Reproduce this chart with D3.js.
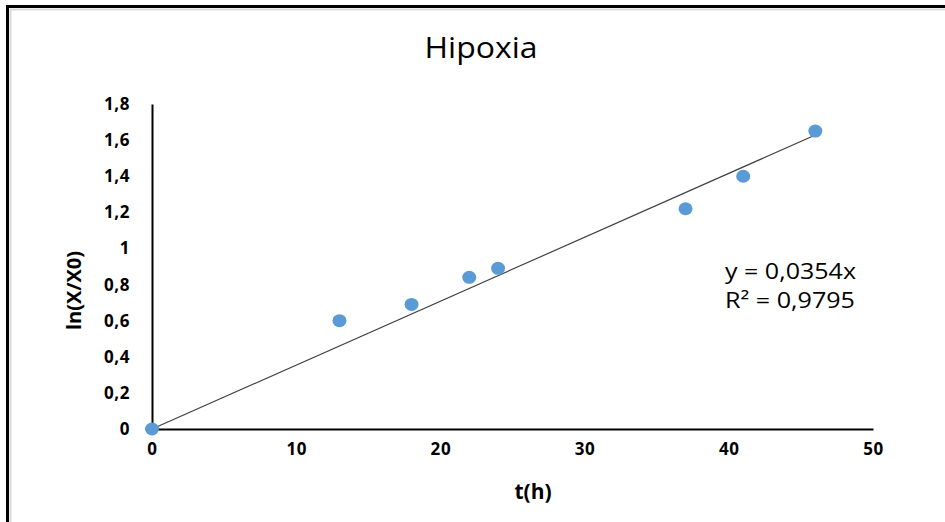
<!DOCTYPE html>
<html>
<head>
<meta charset="utf-8">
<script src="https://cdn.jsdelivr.net/npm/d3@7"></script>
<style>
  html, body { margin: 0; padding: 0; background: #fff; }
  svg { display: block; }
  text { font-family: "Open Sans", "DejaVu Sans", sans-serif; fill: #000; }
</style>
</head>
<body>
<svg id="chart" width="945" height="522"></svg>
<script>
// Measured hours and ln(X/X0) under hypoxia
const hours = [0, 13, 18, 22, 24, 37, 41, 46];
const lnRatio = [0, 0.60, 0.69, 0.84, 0.89, 1.22, 1.40, 1.65];

// Linear fit through the origin, as reported on the chart
const slope = 0.0354;
const rSquared = "0,9795";

const xTicks = [0, 10, 20, 30, 40, 50];
const yTicks = [0, 0.2, 0.4, 0.6, 0.8, 1, 1.2, 1.4, 1.6, 1.8];

const svg = d3.select("#chart");
const W = 945, H = 522;

const x = d3.scaleLinear().domain([0, 50]).range([152, 873]);
const y = d3.scaleLinear().domain([0, 1.8]).range([429, 104]);

const comma = d => String(+d.toFixed(1)).replace(".", ",");

// Frame: heavy dark edge along the top and left, with a soft grey inner line
svg.append("rect").attr("width", W).attr("height", H).attr("fill", "#fff");
svg.append("path")
  .attr("d", `M10.5,${H} V9.5 H${W}`)
  .attr("fill", "none").attr("stroke", "#d9d9d9").attr("stroke-width", 2);
svg.append("path")
  .attr("d", `M7.5,${H} V6.5 H${W}`)
  .attr("fill", "none").attr("stroke", "#000").attr("stroke-width", 3);

// Title
svg.append("text")
  .attr("x", 481).attr("y", 58)
  .attr("text-anchor", "middle")
  .attr("font-size", 30)
  .attr("textLength", 113).attr("lengthAdjust", "spacingAndGlyphs")
  .text("Hipoxia");

// Y axis
const yAxis = d3.axisLeft(y).tickValues(yTicks).tickSize(0).tickPadding(22)
  .tickFormat(comma);
const gy = svg.append("g").attr("transform", `translate(${x(0)},0)`).call(yAxis);
gy.select(".domain").attr("stroke", "#000").attr("stroke-width", 2);
gy.selectAll("text")
  .attr("font-family", "'Open Sans', sans-serif")
  .attr("font-size", 17).attr("font-weight", "bold").attr("fill", "#000")
  .attr("letter-spacing", 0.6);

// X axis
const xAxis = d3.axisBottom(x).tickValues(xTicks).tickSize(0).tickPadding(14);
const gx = svg.append("g").attr("transform", `translate(0,${y(0)})`).call(xAxis);
gx.select(".domain").attr("stroke", "#000").attr("stroke-width", 2);
gx.selectAll("text")
  .attr("font-family", "'Open Sans', sans-serif")
  .attr("font-size", 17).attr("font-weight", "bold").attr("fill", "#000")
  .attr("letter-spacing", 0.6);

// Axis titles
svg.append("text")
  .attr("x", 533).attr("y", 499)
  .attr("text-anchor", "middle")
  .attr("font-size", 21).attr("font-weight", "bold")
  .text("t(h)");
svg.append("text")
  .attr("transform", `translate(81,${(y(0) + y(1.8)) / 2 + 24}) rotate(-90)`)
  .attr("text-anchor", "middle")
  .attr("font-size", 20).attr("font-weight", "bold")
  .text("ln(X/X0)");

// Trend line from 0 to the last measured hour
const xMax = d3.max(hours);
svg.append("line")
  .attr("x1", x(0)).attr("y1", y(0))
  .attr("x2", x(xMax)).attr("y2", y(slope * xMax))
  .attr("stroke", "#404040").attr("stroke-width", 1.2);

// Data points
svg.append("g").selectAll("ellipse")
  .data(hours.map((h, i) => [h, lnRatio[i]]))
  .join("ellipse")
  .attr("cx", d => x(d[0])).attr("cy", d => y(d[1]))
  .attr("rx", 7).attr("ry", 6.5)
  .attr("fill", "#5b9bd5");

// Equation and R² annotation
const eq = svg.append("g").attr("font-size", 21.5);
eq.append("text").attr("x", 725).attr("y", 279)
  .attr("textLength", 131).attr("lengthAdjust", "spacingAndGlyphs")
  .text(`y = ${String(slope).replace(".", ",")}x`);
eq.append("text").attr("x", 725).attr("y", 308)
  .attr("textLength", 130).attr("lengthAdjust", "spacingAndGlyphs")
  .text(`R² = ${rSquared}`);
</script>
</body>
</html>
